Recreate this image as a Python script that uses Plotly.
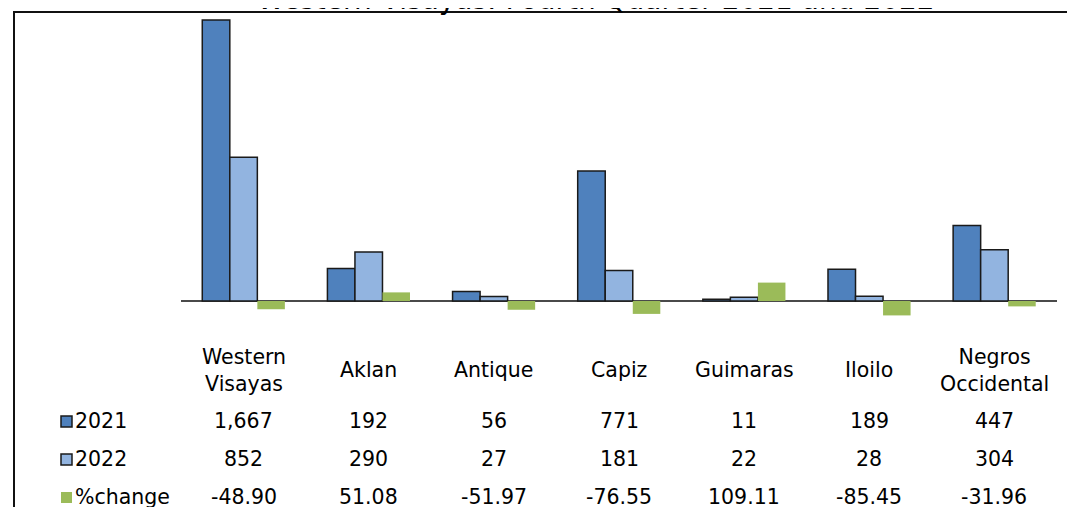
import plotly.graph_objects as go

# data
categories = ["Western<br>Visayas", "Aklan", "Antique", "Capiz", "Guimaras", "Iloilo", "Negros<br>Occidental"]
values_2021 = [1667, 192, 56, 771, 11, 189, 447]
values_2022 = [852, 290, 27, 181, 22, 28, 304]
pct_change = [-48.90, 51.08, -51.97, -76.55, 109.11, -85.45, -31.96]
series_names = ["2021", "2022", "%change"]
title_text = "Western Visayas: Fourth Quarter 2021 and 2022"

W, H = 1075, 507
OFFSET = 8  # page body margin
FONT = "DejaVu Sans"
C2021 = "#4F81BD"
C2022 = "#92B4E0"
CPCT = "#9BBB59"
OUTLINE = "#1a1a1a"


def px_x(p):
    # screen pixel -> paper x
    return (p - OFFSET) / W


def px_y(p):
    # screen pixel -> paper y
    return 1 - (p - OFFSET) / H


fig = go.Figure()
fig.add_trace(go.Bar(x=categories, y=values_2021, name=series_names[0],
                     marker=dict(color=C2021, line=dict(color=OUTLINE, width=1.5))))
fig.add_trace(go.Bar(x=categories, y=values_2022, name=series_names[1],
                     marker=dict(color=C2022, line=dict(color=OUTLINE, width=1.5))))
fig.add_trace(go.Bar(x=categories, y=pct_change, name=series_names[2],
                     marker=dict(color=CPCT, line=dict(width=0))))

annotations = []
# title, mostly cut off at the top like in the source image
annotations.append(dict(text=title_text, xref="paper", yref="paper",
                        x=px_x(596), y=px_y(0), xanchor="center", yanchor="middle",
                        showarrow=False, font=dict(family=FONT, size=28, color="#000000")))

# data table under the chart
rows = [values_2021, values_2022, pct_change]
row_y = [421, 459, 497]
for i, cat in enumerate(categories):
    annotations.append(dict(text=cat, xref="x", yref="paper", x=cat, y=px_y(370),
                            xanchor="center", yanchor="middle", showarrow=False,
                            font=dict(family=FONT, size=20.5, color="#000000")))
    for r, vals in enumerate(rows):
        v = vals[i]
        txt = f"{v:.2f}" if r == 2 else f"{v:,}"
        annotations.append(dict(text=txt, xref="x", yref="paper", x=cat, y=px_y(row_y[r]),
                                xanchor="center", yanchor="middle", showarrow=False,
                                font=dict(family=FONT, size=20.5, color="#000000")))

shapes = []
key_colors = [C2021, C2022, CPCT]
for r, name in enumerate(series_names):
    annotations.append(dict(text=name, xref="paper", yref="paper", x=px_x(73), y=px_y(row_y[r]),
                            xanchor="left", yanchor="middle", showarrow=False,
                            font=dict(family=FONT, size=20.5, color="#000000")))
    shapes.append(dict(type="rect", xref="paper", yref="paper",
                       x0=px_x(61), x1=px_x(72), y0=px_y(row_y[r] + 6), y1=px_y(row_y[r] - 5),
                       fillcolor=key_colors[r],
                       line=dict(color=OUTLINE if r < 2 else key_colors[r], width=1.5 if r < 2 else 0)))

# chart border (cropped on the right and bottom)
shapes.append(dict(type="rect", xref="paper", yref="paper", x0=px_x(14), x1=1.05,
                   y0=-0.05, y1=px_y(12), line=dict(color="#111111", width=2)))

fig.update_layout(
    width=W, height=H,
    margin=dict(l=0, r=0, t=0, b=0),
    paper_bgcolor="white", plot_bgcolor="white",
    barmode="group", bargap=0.34, bargroupgap=0,
    showlegend=False,
    xaxis=dict(domain=[px_x(181), px_x(1057)], showticklabels=False, showgrid=False,
               showline=False, ticks=""),
    yaxis=dict(domain=[px_y(330), px_y(14)], range=[-172, 1702], showticklabels=False,
               showgrid=False, showline=False, ticks="",
               zeroline=True, zerolinecolor="#4a4a4a", zerolinewidth=2),
    annotations=annotations,
    shapes=shapes,
)

fig.write_html("out.html")
